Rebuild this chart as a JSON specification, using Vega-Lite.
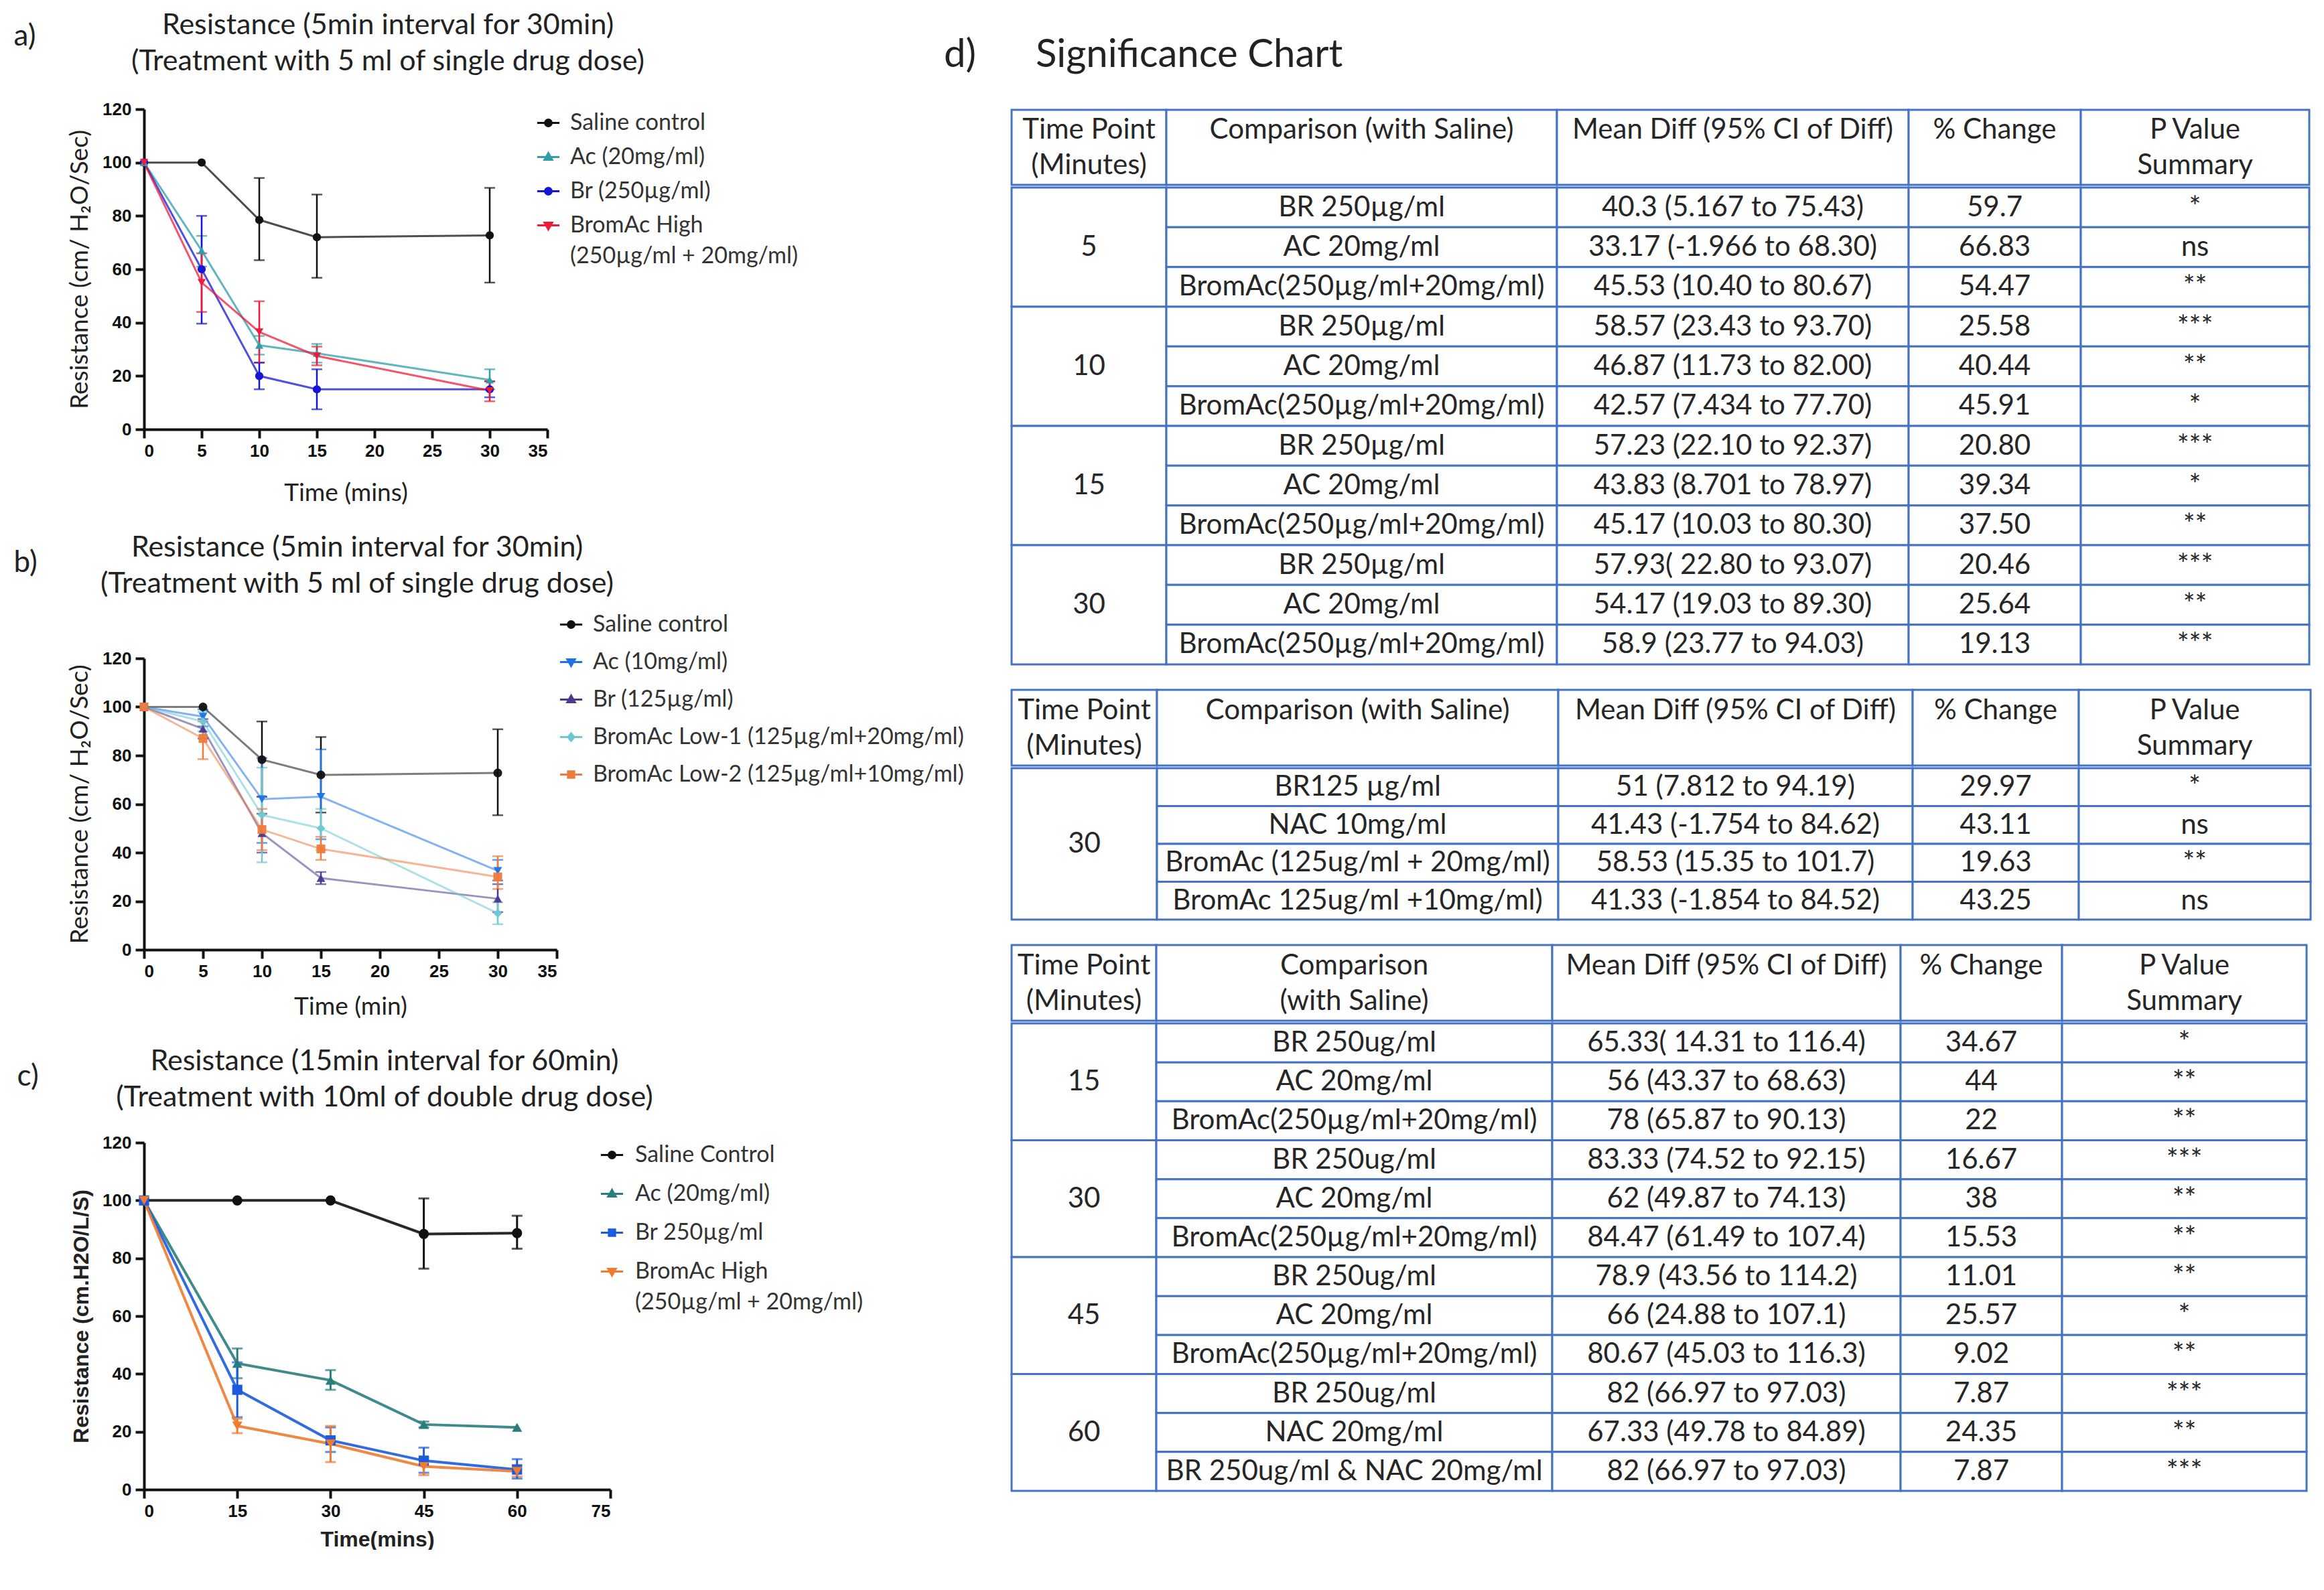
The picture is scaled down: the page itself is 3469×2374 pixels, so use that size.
{
"$schema": "https://vega.github.io/schema/vega-lite/v6.json",
"background": "white",
"padding": {"left": 20, "top": 17, "right": 0, "bottom": 0},
"config": {
  "view": {"stroke": null},
  "font": "Lato",
  "axis": {"labelFont": "Liberation Sans", "labelFontWeight": "bold", "labelFontSize": 26, "labelColor": "#111111", "domainColor": "#111111", "domainWidth": 4, "tickColor": "#111111", "tickWidth": 4, "tickSize": 13, "grid": false, "titleColor": "#222222", "labelPadding": 6},
  "axisY": {"titleFont": "Lato", "titleFontWeight": "normal", "titleFontSize": 37, "titlePadding": 14},
  "axisX": {"titleFont": "Lato", "titleFontWeight": "normal", "titleFontSize": 37, "titlePadding": 14},
  "title": {"font": "Lato", "fontWeight": "normal", "color": "#222222"}
},
"datasets": {
  "ca": [
    {"s": "Saline control", "t": 0, "v": 100},
    {"s": "Saline control", "t": 5, "v": 100},
    {"s": "Saline control", "t": 10, "v": 78.5, "lo": 63.4, "hi": 94.2},
    {"s": "Saline control", "t": 15, "v": 72, "lo": 56.8, "hi": 88},
    {"s": "Saline control", "t": 30, "v": 72.7, "lo": 55, "hi": 90.5},
    {"s": "Ac (20mg/ml)", "t": 0, "v": 100},
    {"s": "Ac (20mg/ml)", "t": 5, "v": 67, "lo": 61, "hi": 72.5},
    {"s": "Ac (20mg/ml)", "t": 10, "v": 31.5, "lo": 28, "hi": 35},
    {"s": "Ac (20mg/ml)", "t": 15, "v": 28.5, "lo": 25, "hi": 32},
    {"s": "Ac (20mg/ml)", "t": 30, "v": 18.5, "lo": 15, "hi": 22.5},
    {"s": "Br (250µg/ml)", "t": 0, "v": 100},
    {"s": "Br (250µg/ml)", "t": 5, "v": 60, "lo": 39.6, "hi": 80},
    {"s": "Br (250µg/ml)", "t": 10, "v": 20, "lo": 15, "hi": 25},
    {"s": "Br (250µg/ml)", "t": 15, "v": 15, "lo": 7.5, "hi": 22.5},
    {"s": "Br (250µg/ml)", "t": 30, "v": 15, "lo": 12, "hi": 18},
    {"s": "BromAc High (250µg/ml + 20mg/ml)", "t": 0, "v": 100},
    {"s": "BromAc High (250µg/ml + 20mg/ml)", "t": 5, "v": 55, "lo": 44, "hi": 66},
    {"s": "BromAc High (250µg/ml + 20mg/ml)", "t": 10, "v": 36.5, "lo": 25, "hi": 48},
    {"s": "BromAc High (250µg/ml + 20mg/ml)", "t": 15, "v": 27.5, "lo": 24, "hi": 31},
    {"s": "BromAc High (250µg/ml + 20mg/ml)", "t": 30, "v": 14.5, "lo": 10.5, "hi": 18}
  ],
  "cb": [
    {"s": "Saline control", "t": 0, "v": 100},
    {"s": "Saline control", "t": 5, "v": 100},
    {"s": "Saline control", "t": 10, "v": 78.3, "lo": 63, "hi": 94},
    {"s": "Saline control", "t": 15, "v": 72, "lo": 56.5, "hi": 87.6},
    {"s": "Saline control", "t": 30, "v": 72.8, "lo": 55.4, "hi": 90.8},
    {"s": "Ac (10mg/ml)", "t": 0, "v": 100},
    {"s": "Ac (10mg/ml)", "t": 5, "v": 96, "lo": 92, "hi": 99},
    {"s": "Ac (10mg/ml)", "t": 10, "v": 62, "lo": 44, "hi": 79},
    {"s": "Ac (10mg/ml)", "t": 15, "v": 63, "lo": 45.5, "hi": 82.5},
    {"s": "Ac (10mg/ml)", "t": 30, "v": 32.5, "lo": 28.5, "hi": 37},
    {"s": "Br (125µg/ml)", "t": 0, "v": 100},
    {"s": "Br (125µg/ml)", "t": 5, "v": 91, "lo": 87, "hi": 95},
    {"s": "Br (125µg/ml)", "t": 10, "v": 48, "lo": 40, "hi": 56},
    {"s": "Br (125µg/ml)", "t": 15, "v": 29.5, "lo": 27, "hi": 32},
    {"s": "Br (125µg/ml)", "t": 30, "v": 21, "lo": 15.5, "hi": 27},
    {"s": "BromAc Low-1 (125µg/ml+20mg/ml)", "t": 0, "v": 100},
    {"s": "BromAc Low-1 (125µg/ml+20mg/ml)", "t": 5, "v": 94, "lo": 90, "hi": 98},
    {"s": "BromAc Low-1 (125µg/ml+20mg/ml)", "t": 10, "v": 55.5, "lo": 36, "hi": 75},
    {"s": "BromAc Low-1 (125µg/ml+20mg/ml)", "t": 15, "v": 50, "lo": 41, "hi": 58},
    {"s": "BromAc Low-1 (125µg/ml+20mg/ml)", "t": 30, "v": 15, "lo": 10.5, "hi": 19.5},
    {"s": "BromAc Low-2 (125µg/ml+10mg/ml)", "t": 0, "v": 100},
    {"s": "BromAc Low-2 (125µg/ml+10mg/ml)", "t": 5, "v": 87, "lo": 78.5, "hi": 94},
    {"s": "BromAc Low-2 (125µg/ml+10mg/ml)", "t": 10, "v": 49.5, "lo": 41, "hi": 58},
    {"s": "BromAc Low-2 (125µg/ml+10mg/ml)", "t": 15, "v": 41.5, "lo": 37, "hi": 46.5},
    {"s": "BromAc Low-2 (125µg/ml+10mg/ml)", "t": 30, "v": 30, "lo": 25, "hi": 38.5}
  ],
  "cc": [
    {"s": "Saline Control", "t": 0, "v": 100},
    {"s": "Saline Control", "t": 15, "v": 100},
    {"s": "Saline Control", "t": 30, "v": 100},
    {"s": "Saline Control", "t": 45, "v": 88.4, "lo": 76.4, "hi": 100.7},
    {"s": "Saline Control", "t": 60, "v": 88.7, "lo": 83.3, "hi": 94.7},
    {"s": "Ac (20mg/ml)", "t": 0, "v": 100},
    {"s": "Ac (20mg/ml)", "t": 15, "v": 43.6, "lo": 38.5, "hi": 48.8},
    {"s": "Ac (20mg/ml)", "t": 30, "v": 37.8, "lo": 34.5, "hi": 41.3},
    {"s": "Ac (20mg/ml)", "t": 45, "v": 22.5, "lo": 21.5, "hi": 23.5},
    {"s": "Ac (20mg/ml)", "t": 60, "v": 21.5},
    {"s": "Br 250µg/ml", "t": 0, "v": 100},
    {"s": "Br 250µg/ml", "t": 15, "v": 34.5, "lo": 25, "hi": 44},
    {"s": "Br 250µg/ml", "t": 30, "v": 17, "lo": 13, "hi": 21.5},
    {"s": "Br 250µg/ml", "t": 45, "v": 10, "lo": 5.8, "hi": 14.5},
    {"s": "Br 250µg/ml", "t": 60, "v": 6.9, "lo": 3.8, "hi": 10.5},
    {"s": "BromAc High (250µg/ml + 20mg/ml)", "t": 0, "v": 100},
    {"s": "BromAc High (250µg/ml + 20mg/ml)", "t": 15, "v": 22, "lo": 19.5, "hi": 24.5},
    {"s": "BromAc High (250µg/ml + 20mg/ml)", "t": 30, "v": 15.8, "lo": 9.5, "hi": 22},
    {"s": "BromAc High (250µg/ml + 20mg/ml)", "t": 45, "v": 8, "lo": 5, "hi": 11},
    {"s": "BromAc High (250µg/ml + 20mg/ml)", "t": 60, "v": 6.3, "lo": 4.5, "hi": 8.5}
  ],
  "t1": [
    {"row": 1, "tp": 5, "comp": "BR 250µg/ml", "md": "40.3 (5.167 to 75.43)", "pct": "59.7", "p": "*"},
    {"row": 2, "tp": 5, "comp": "AC 20mg/ml", "md": "33.17 (-1.966 to 68.30)", "pct": "66.83", "p": "ns"},
    {"row": 3, "tp": 5, "comp": "BromAc(250µg/ml+20mg/ml)", "md": "45.53 (10.40 to 80.67)", "pct": "54.47", "p": "**"},
    {"row": 4, "tp": 10, "comp": "BR 250µg/ml", "md": "58.57 (23.43 to 93.70)", "pct": "25.58", "p": "***"},
    {"row": 5, "tp": 10, "comp": "AC 20mg/ml", "md": "46.87 (11.73 to 82.00)", "pct": "40.44", "p": "**"},
    {"row": 6, "tp": 10, "comp": "BromAc(250µg/ml+20mg/ml)", "md": "42.57 (7.434 to 77.70)", "pct": "45.91", "p": "*"},
    {"row": 7, "tp": 15, "comp": "BR 250µg/ml", "md": "57.23 (22.10 to 92.37)", "pct": "20.80", "p": "***"},
    {"row": 8, "tp": 15, "comp": "AC 20mg/ml", "md": "43.83 (8.701 to 78.97)", "pct": "39.34", "p": "*"},
    {"row": 9, "tp": 15, "comp": "BromAc(250µg/ml+20mg/ml)", "md": "45.17 (10.03 to 80.30)", "pct": "37.50", "p": "**"},
    {"row": 10, "tp": 30, "comp": "BR 250µg/ml", "md": "57.93( 22.80 to 93.07)", "pct": "20.46", "p": "***"},
    {"row": 11, "tp": 30, "comp": "AC 20mg/ml", "md": "54.17 (19.03 to 89.30)", "pct": "25.64", "p": "**"},
    {"row": 12, "tp": 30, "comp": "BromAc(250µg/ml+20mg/ml)", "md": "58.9 (23.77 to 94.03)", "pct": "19.13", "p": "***"}
  ],
  "t2": [
    {"row": 1, "tp": 30, "comp": "BR125 µg/ml", "md": "51 (7.812 to 94.19)", "pct": "29.97", "p": "*"},
    {"row": 2, "tp": 30, "comp": "NAC 10mg/ml", "md": "41.43 (-1.754 to 84.62)", "pct": "43.11", "p": "ns"},
    {"row": 3, "tp": 30, "comp": "BromAc (125ug/ml + 20mg/ml)", "md": "58.53 (15.35 to 101.7)", "pct": "19.63", "p": "**"},
    {"row": 4, "tp": 30, "comp": "BromAc 125ug/ml +10mg/ml)", "md": "41.33 (-1.854 to 84.52)", "pct": "43.25", "p": "ns"}
  ],
  "t3": [
    {"row": 1, "tp": 15, "comp": "BR 250ug/ml", "md": "65.33( 14.31 to 116.4)", "pct": "34.67", "p": "*"},
    {"row": 2, "tp": 15, "comp": "AC 20mg/ml", "md": "56 (43.37 to 68.63)", "pct": "44", "p": "**"},
    {"row": 3, "tp": 15, "comp": "BromAc(250µg/ml+20mg/ml)", "md": "78 (65.87 to 90.13)", "pct": "22", "p": "**"},
    {"row": 4, "tp": 30, "comp": "BR 250ug/ml", "md": "83.33 (74.52 to 92.15)", "pct": "16.67", "p": "***"},
    {"row": 5, "tp": 30, "comp": "AC 20mg/ml", "md": "62 (49.87 to 74.13)", "pct": "38", "p": "**"},
    {"row": 6, "tp": 30, "comp": "BromAc(250µg/ml+20mg/ml)", "md": "84.47 (61.49 to 107.4)", "pct": "15.53", "p": "**"},
    {"row": 7, "tp": 45, "comp": "BR 250ug/ml", "md": "78.9 (43.56 to 114.2)", "pct": "11.01", "p": "**"},
    {"row": 8, "tp": 45, "comp": "AC 20mg/ml", "md": "66 (24.88 to 107.1)", "pct": "25.57", "p": "*"},
    {"row": 9, "tp": 45, "comp": "BromAc(250µg/ml+20mg/ml)", "md": "80.67 (45.03 to 116.3)", "pct": "9.02", "p": "**"},
    {"row": 10, "tp": 60, "comp": "BR 250ug/ml", "md": "82 (66.97 to 97.03)", "pct": "7.87", "p": "***"},
    {"row": 11, "tp": 60, "comp": "NAC 20mg/ml", "md": "67.33 (49.78 to 84.89)", "pct": "24.35", "p": "**"},
    {"row": 12, "tp": 60, "comp": "BR 250ug/ml & NAC 20mg/ml", "md": "82 (66.97 to 97.03)", "pct": "7.87", "p": "***"}
  ]
},
"align": "none",
"spacing": -30,
"hconcat": [
  {
    "spacing": 43,
    "resolve": {"scale": {"color": "independent"}},
    "vconcat": [
      {
        "title": {"text": "a)", "anchor": "start", "frame": "bounds", "offset": -60, "dx": -80, "fontSize": 44},
        "resolve": {"scale": {"color": "independent"}},
        "vconcat": [{
          "width": 602, "height": 478,
          "data": {"name": "ca"},
          "title": {"text": ["Resistance (5min interval for 30min)", "(Treatment with 5 ml of single drug dose)"], "fontSize": 43, "lineHeight": 54, "offset": 36, "frame": "group", "dx": 63},
          "encoding": {
            "x": {"field": "t", "type": "quantitative", "scale": {"domain": [0, 35]}, "axis": {"values": [0, 5, 10, 15, 20, 25, 30, 35], "title": "Time (mins)", "titlePadding": 32}},
            "y": {"field": "v", "type": "quantitative", "scale": {"domain": [0, 120]}, "axis": {"title": "Resistance (cm/ H₂O/Sec)", "values": [0, 20, 40, 60, 80, 100, 120]}},
            "color": {"field": "s", "type": "nominal", "scale": {"domain": ["Saline control", "Ac (20mg/ml)", "Br (250µg/ml)", "BromAc High (250µg/ml + 20mg/ml)"], "range": ["#111111", "#2E9EA8", "#1515D5", "#EE1C3C"]},
              "legend": {
                "orient": "none", "legendX": 585, "legendY": 2, "title": null, "padding": 0,
                "labelFont": "Lato", "labelFontSize": 34, "labelColor": "#333333", "labelLimit": 1000, "labelOffset": 14,
                "symbolSize": 1100, "symbolStrokeWidth": 3, "rowPadding": 15,
                "labelExpr": "datum.label == 'BromAc High (250µg/ml + 20mg/ml)' ? ['BromAc High', '(250µg/ml + 20mg/ml)'] : datum.label",
                "encode": {
                  "labels": {"update": {"lineHeight": {"value": 46}}},
                  "symbols": {"update": {
                    "size": {"value": 1100}, "strokeWidth": {"value": 3}, "opacity": {"value": 1},
                    "shape": {"signal": "datum.value == 'Saline control' ? 'M-1,0H1M-0.3,0A0.3,0.3,0,1,0,0.3,0A0.3,0.3,0,1,0,-0.3,0Z' : datum.value == 'Ac (20mg/ml)' ? 'M-1,0H1M0,-0.36L0.34,0.24L-0.34,0.24Z' : datum.value == 'Br (250µg/ml)' ? 'M-1,0H1M-0.3,0A0.3,0.3,0,1,0,0.3,0A0.3,0.3,0,1,0,-0.3,0Z' : 'M-1,0H1M0,0.36L0.34,-0.24L-0.34,-0.24Z'"},
                    "fill": {"signal": "datum.value == 'Saline control' ? '#111111' : datum.value == 'Ac (20mg/ml)' ? '#2E9EA8' : datum.value == 'Br (250µg/ml)' ? '#1515D5' : '#EE1C3C'"},
                    "stroke": {"signal": "datum.value == 'Saline control' ? '#111111' : datum.value == 'Ac (20mg/ml)' ? '#2E9EA8' : datum.value == 'Br (250µg/ml)' ? '#1515D5' : '#EE1C3C'"}
                  }}
                }
              }
            }
          },
          "layer": [
            {
              "transform": [{"filter": "isValid(datum.lo)"}],
              "mark": {"type": "errorbar", "ticks": {"size": 16}, "thickness": 2.5},
              "encoding": {
                "y": {"field": "lo", "type": "quantitative", "scale": {"domain": [0, 120]}, "axis": {"title": "Resistance (cm/ H₂O/Sec)", "values": [0, 20, 40, 60, 80, 100, 120]}},
                "y2": {"field": "hi"}
              }
            },
            {"mark": {"type": "line", "strokeWidth": 3, "opacity": 0.75}, "encoding": {}},
            {"transform": [{"filter": {"field": "s", "oneOf": ["Saline control", "Br (250µg/ml)"]}}], "mark": {"type": "point", "shape": "circle", "filled": true, "size": 150, "opacity": 1}, "encoding": {}},
            {"transform": [{"filter": {"field": "s", "oneOf": ["Ac (20mg/ml)"]}}], "mark": {"type": "point", "shape": "triangle-up", "filled": true, "size": 150, "opacity": 1}, "encoding": {}},
            {"transform": [{"filter": {"field": "s", "oneOf": ["BromAc High (250µg/ml + 20mg/ml)"]}}], "mark": {"type": "point", "shape": "triangle-down", "filled": true, "size": 150, "opacity": 1}, "encoding": {}}
          ]
        }]
      },
      {
        "title": {"text": "b)", "anchor": "start", "frame": "bounds", "offset": -66, "dx": -80, "fontSize": 44},
        "resolve": {"scale": {"color": "independent"}},
        "vconcat": [{
          "width": 616, "height": 435,
          "data": {"name": "cb"},
          "title": {"text": ["Resistance (5min interval for 30min)", "(Treatment with 5 ml of single drug dose)"], "fontSize": 43, "lineHeight": 54, "offset": 20, "frame": "group", "dx": 10},
          "encoding": {
            "x": {"field": "t", "type": "quantitative", "scale": {"domain": [0, 35]}, "axis": {"values": [0, 5, 10, 15, 20, 25, 30, 35], "title": "Time (min)", "titlePadding": 22}},
            "y": {"field": "v", "type": "quantitative", "scale": {"domain": [0, 120]}, "axis": {"title": "Resistance (cm/ H₂O/Sec)", "values": [0, 20, 40, 60, 80, 100, 120]}},
            "color": {"field": "s", "type": "nominal", "scale": {"domain": ["Saline control", "Ac (10mg/ml)", "Br (125µg/ml)", "BromAc Low-1 (125µg/ml+20mg/ml)", "BromAc Low-2 (125µg/ml+10mg/ml)"], "range": ["#111111", "#1E73E6", "#4A3A8C", "#6CC8D2", "#EE7A3E"]},
              "legend": {
                "orient": "none", "legendX": 619, "legendY": -69, "title": null, "padding": 0,
                "labelFont": "Lato", "labelFontSize": 34, "labelColor": "#333333", "labelLimit": 1000, "labelOffset": 14,
                "symbolSize": 1100, "symbolStrokeWidth": 3, "rowPadding": 20,
                "encode": {
                  "symbols": {"update": {
                    "size": {"value": 1100}, "strokeWidth": {"value": 3}, "opacity": {"value": 1},
                    "shape": {"signal": "datum.value == 'Saline control' ? 'M-1,0H1M-0.3,0A0.3,0.3,0,1,0,0.3,0A0.3,0.3,0,1,0,-0.3,0Z' : datum.value == 'Ac (10mg/ml)' ? 'M-1,0H1M0,0.36L0.34,-0.24L-0.34,-0.24Z' : datum.value == 'Br (125µg/ml)' ? 'M-1,0H1M0,-0.36L0.34,0.24L-0.34,0.24Z' : datum.value == 'BromAc Low-1 (125µg/ml+20mg/ml)' ? 'M-1,0H1M0,-0.34L0.28,0L0,0.34L-0.28,0Z' : 'M-1,0H1M-0.28,-0.28H0.28V0.28H-0.28Z'"},
                    "fill": {"signal": "datum.value == 'Saline control' ? '#111111' : datum.value == 'Ac (10mg/ml)' ? '#1E73E6' : datum.value == 'Br (125µg/ml)' ? '#4A3A8C' : datum.value == 'BromAc Low-1 (125µg/ml+20mg/ml)' ? '#6CC8D2' : '#EE7A3E'"},
                    "stroke": {"signal": "datum.value == 'Saline control' ? '#111111' : datum.value == 'Ac (10mg/ml)' ? '#1E73E6' : datum.value == 'Br (125µg/ml)' ? '#4A3A8C' : datum.value == 'BromAc Low-1 (125µg/ml+20mg/ml)' ? '#6CC8D2' : '#EE7A3E'"}
                  }}
                }
              }
            }
          },
          "layer": [
            {
              "transform": [{"filter": "isValid(datum.lo)"}],
              "mark": {"type": "errorbar", "ticks": {"size": 16}, "thickness": 2.5},
              "encoding": {
                "y": {"field": "lo", "type": "quantitative", "scale": {"domain": [0, 120]}, "axis": {"title": "Resistance (cm/ H₂O/Sec)", "values": [0, 20, 40, 60, 80, 100, 120]}},
                "y2": {"field": "hi"}
              }
            },
            {"mark": {"type": "line", "strokeWidth": 3, "opacity": 0.55}, "encoding": {}},
            {"transform": [{"filter": {"field": "s", "oneOf": ["Saline control"]}}], "mark": {"type": "point", "shape": "circle", "filled": true, "size": 170, "opacity": 0.95}, "encoding": {}},
            {"transform": [{"filter": {"field": "s", "oneOf": ["Ac (10mg/ml)"]}}], "mark": {"type": "point", "shape": "triangle-down", "filled": true, "size": 170, "opacity": 0.95}, "encoding": {}},
            {"transform": [{"filter": {"field": "s", "oneOf": ["Br (125µg/ml)"]}}], "mark": {"type": "point", "shape": "triangle-up", "filled": true, "size": 170, "opacity": 0.95}, "encoding": {}},
            {"transform": [{"filter": {"field": "s", "oneOf": ["BromAc Low-1 (125µg/ml+20mg/ml)"]}}], "mark": {"type": "point", "shape": "diamond", "filled": true, "size": 170, "opacity": 0.95}, "encoding": {}},
            {"transform": [{"filter": {"field": "s", "oneOf": ["BromAc Low-2 (125µg/ml+10mg/ml)"]}}], "mark": {"type": "point", "shape": "square", "filled": true, "size": 170, "opacity": 0.95}, "encoding": {}}
          ]
        }]
      },
      {
        "title": {"text": "c)", "anchor": "start", "frame": "bounds", "offset": -66, "dx": -80, "fontSize": 44},
        "resolve": {"scale": {"color": "independent"}},
        "vconcat": [{
          "width": 696, "height": 518,
          "data": {"name": "cc"},
          "title": {"text": ["Resistance (15min interval for 60min)", "(Treatment with 10ml of double drug dose)"], "fontSize": 43, "lineHeight": 54, "offset": 32, "frame": "group", "dx": 11},
          "encoding": {
            "x": {"field": "t", "type": "quantitative", "scale": {"domain": [0, 75]}, "axis": {"values": [0, 15, 30, 45, 60, 75], "title": "Time(mins)", "titleFont": "Liberation Sans", "titleFontWeight": "bold", "titleFontSize": 32}},
            "y": {"field": "v", "type": "quantitative", "scale": {"domain": [0, 120]}, "axis": {"title": "Resistance (cm.H2O/L/S)", "titleFont": "Liberation Sans", "titleFontWeight": "bold", "titleFontSize": 32, "values": [0, 20, 40, 60, 80, 100, 120]}},
            "color": {"field": "s", "type": "nominal", "scale": {"domain": ["Saline Control", "Ac (20mg/ml)", "Br 250µg/ml", "BromAc High (250µg/ml + 20mg/ml)"], "range": ["#111111", "#2A7D7D", "#1B5BE0", "#F07B2E"]},
              "legend": {
                "orient": "none", "legendX": 680, "legendY": 0, "title": null, "padding": 0,
                "labelFont": "Lato", "labelFontSize": 34, "labelColor": "#333333", "labelLimit": 1000, "labelOffset": 16,
                "symbolSize": 1100, "symbolStrokeWidth": 3, "rowPadding": 22,
                "labelExpr": "datum.label == 'BromAc High (250µg/ml + 20mg/ml)' ? ['BromAc High', '(250µg/ml + 20mg/ml)'] : datum.label",
                "encode": {
                  "labels": {"update": {"lineHeight": {"value": 46}}},
                  "symbols": {"update": {
                    "size": {"value": 1100}, "strokeWidth": {"value": 3}, "opacity": {"value": 1},
                    "shape": {"signal": "datum.value == 'Saline Control' ? 'M-1,0H1M-0.3,0A0.3,0.3,0,1,0,0.3,0A0.3,0.3,0,1,0,-0.3,0Z' : datum.value == 'Ac (20mg/ml)' ? 'M-1,0H1M0,-0.36L0.34,0.24L-0.34,0.24Z' : datum.value == 'Br 250µg/ml' ? 'M-1,0H1M-0.28,-0.28H0.28V0.28H-0.28Z' : 'M-1,0H1M0,0.36L0.34,-0.24L-0.34,-0.24Z'"},
                    "fill": {"signal": "datum.value == 'Saline Control' ? '#111111' : datum.value == 'Ac (20mg/ml)' ? '#2A7D7D' : datum.value == 'Br 250µg/ml' ? '#1B5BE0' : '#F07B2E'"},
                    "stroke": {"signal": "datum.value == 'Saline Control' ? '#111111' : datum.value == 'Ac (20mg/ml)' ? '#2A7D7D' : datum.value == 'Br 250µg/ml' ? '#1B5BE0' : '#F07B2E'"}
                  }}
                }
              }
            }
          },
          "layer": [
            {
              "transform": [{"filter": "isValid(datum.lo)"}],
              "mark": {"type": "errorbar", "ticks": {"size": 16}, "thickness": 3},
              "encoding": {
                "y": {"field": "lo", "type": "quantitative", "scale": {"domain": [0, 120]}, "axis": {"title": "Resistance (cm.H2O/L/S)", "titleFont": "Liberation Sans", "titleFontWeight": "bold", "titleFontSize": 32, "values": [0, 20, 40, 60, 80, 100, 120]}},
                "y2": {"field": "hi"}
              }
            },
            {"mark": {"type": "line", "strokeWidth": 4, "opacity": 0.9}, "encoding": {}},
            {"transform": [{"filter": {"field": "s", "oneOf": ["Saline Control"]}}], "mark": {"type": "point", "shape": "circle", "filled": true, "size": 230, "opacity": 1}, "encoding": {}},
            {"transform": [{"filter": {"field": "s", "oneOf": ["Ac (20mg/ml)"]}}], "mark": {"type": "point", "shape": "triangle-up", "filled": true, "size": 230, "opacity": 1}, "encoding": {}},
            {"transform": [{"filter": {"field": "s", "oneOf": ["Br 250µg/ml"]}}], "mark": {"type": "point", "shape": "square", "filled": true, "size": 230, "opacity": 1}, "encoding": {}},
            {"transform": [{"filter": {"field": "s", "oneOf": ["BromAc High (250µg/ml + 20mg/ml)"]}}], "mark": {"type": "point", "shape": "triangle-down", "filled": true, "size": 230, "opacity": 1}, "encoding": {}}
          ]
        }]
      }
    ]
  },
  {
    "spacing": -26,
    "vconcat": [
      {"width": 1937, "height": 1, "data": {"values": []}, "mark": "rect",
       "title": {"text": "d)\u00a0\u00a0\u00a0\u00a0\u00a0\u00a0Significance Chart", "anchor": "start", "frame": "group", "dx": -101, "fontSize": 58, "offset": 51}},
      {
        "spacing": 34,
        "vconcat": [
          {
            "spacing": 0,
            "vconcat": [
              {"spacing": 0, "bounds": "flush", "hconcat": [
                {"width": 231, "height": 112, "data": {"values": [{"h1": "Time Point", "h2": "(Minutes)"}]}, "layer": [
                  {"mark": {"type": "rect", "fill": "#ffffff", "stroke": "#4472C4", "strokeWidth": 3}, "encoding": {}},
                  {"mark": {"type": "text", "fontSize": 42, "color": "#262626", "dy": -26}, "encoding": {"text": {"field": "h1"}}},
                  {"mark": {"type": "text", "fontSize": 42, "color": "#262626", "dy": 27}, "encoding": {"text": {"field": "h2"}}}]},
                {"width": 583, "height": 112, "data": {"values": [{"h1": "Comparison (with Saline)", "h2": ""}]}, "layer": [
                  {"mark": {"type": "rect", "fill": "#ffffff", "stroke": "#4472C4", "strokeWidth": 3}, "encoding": {}},
                  {"mark": {"type": "text", "fontSize": 42, "color": "#262626", "dy": -26}, "encoding": {"text": {"field": "h1"}}},
                  {"mark": {"type": "text", "fontSize": 42, "color": "#262626", "dy": 27}, "encoding": {"text": {"field": "h2"}}}]},
                {"width": 525, "height": 112, "data": {"values": [{"h1": "Mean Diff (95% CI of Diff)", "h2": ""}]}, "layer": [
                  {"mark": {"type": "rect", "fill": "#ffffff", "stroke": "#4472C4", "strokeWidth": 3}, "encoding": {}},
                  {"mark": {"type": "text", "fontSize": 42, "color": "#262626", "dy": -26}, "encoding": {"text": {"field": "h1"}}},
                  {"mark": {"type": "text", "fontSize": 42, "color": "#262626", "dy": 27}, "encoding": {"text": {"field": "h2"}}}]},
                {"width": 257, "height": 112, "data": {"values": [{"h1": "% Change", "h2": ""}]}, "layer": [
                  {"mark": {"type": "rect", "fill": "#ffffff", "stroke": "#4472C4", "strokeWidth": 3}, "encoding": {}},
                  {"mark": {"type": "text", "fontSize": 42, "color": "#262626", "dy": -26}, "encoding": {"text": {"field": "h1"}}},
                  {"mark": {"type": "text", "fontSize": 42, "color": "#262626", "dy": 27}, "encoding": {"text": {"field": "h2"}}}]},
                {"width": 341, "height": 112, "data": {"values": [{"h1": "P Value", "h2": "Summary"}]}, "layer": [
                  {"mark": {"type": "rect", "fill": "#ffffff", "stroke": "#4472C4", "strokeWidth": 3}, "encoding": {}},
                  {"mark": {"type": "text", "fontSize": 42, "color": "#262626", "dy": -26}, "encoding": {"text": {"field": "h1"}}},
                  {"mark": {"type": "text", "fontSize": 42, "color": "#262626", "dy": 27}, "encoding": {"text": {"field": "h2"}}}]}
              ]},
              {"spacing": 0, "bounds": "flush", "hconcat": [
                {"width": 231, "height": 712, "data": {"name": "t1"}, "transform": [{"aggregate": [{"op": "count", "as": "n"}], "groupby": ["tp"]}],
                 "encoding": {"y": {"field": "tp", "type": "ordinal", "axis": null, "scale": {"type": "band", "paddingInner": 0, "paddingOuter": 0}}},
                 "layer": [
                  {"mark": {"type": "rect", "fill": "#ffffff", "stroke": "#4472C4", "strokeWidth": 3}, "encoding": {}},
                  {"mark": {"type": "text", "fontSize": 42, "color": "#262626"}, "encoding": {"text": {"field": "tp"}}}]},
                {"width": 583, "height": 712, "data": {"name": "t1"},
                 "encoding": {"y": {"field": "row", "type": "ordinal", "axis": null, "scale": {"type": "band", "paddingInner": 0, "paddingOuter": 0}}},
                 "layer": [
                  {"mark": {"type": "rect", "fill": "#ffffff", "stroke": "#4472C4", "strokeWidth": 3}, "encoding": {}},
                  {"mark": {"type": "text", "fontSize": 42, "color": "#262626"}, "encoding": {"text": {"field": "comp"}}}]},
                {"width": 525, "height": 712, "data": {"name": "t1"},
                 "encoding": {"y": {"field": "row", "type": "ordinal", "axis": null, "scale": {"type": "band", "paddingInner": 0, "paddingOuter": 0}}},
                 "layer": [
                  {"mark": {"type": "rect", "fill": "#ffffff", "stroke": "#4472C4", "strokeWidth": 3}, "encoding": {}},
                  {"mark": {"type": "text", "fontSize": 42, "color": "#262626"}, "encoding": {"text": {"field": "md"}}}]},
                {"width": 257, "height": 712, "data": {"name": "t1"},
                 "encoding": {"y": {"field": "row", "type": "ordinal", "axis": null, "scale": {"type": "band", "paddingInner": 0, "paddingOuter": 0}}},
                 "layer": [
                  {"mark": {"type": "rect", "fill": "#ffffff", "stroke": "#4472C4", "strokeWidth": 3}, "encoding": {}},
                  {"mark": {"type": "text", "fontSize": 42, "color": "#262626"}, "encoding": {"text": {"field": "pct"}}}]},
                {"width": 341, "height": 712, "data": {"name": "t1"},
                 "encoding": {"y": {"field": "row", "type": "ordinal", "axis": null, "scale": {"type": "band", "paddingInner": 0, "paddingOuter": 0}}},
                 "layer": [
                  {"mark": {"type": "rect", "fill": "#ffffff", "stroke": "#4472C4", "strokeWidth": 3}, "encoding": {}},
                  {"mark": {"type": "text", "fontSize": 42, "color": "#262626"}, "encoding": {"text": {"field": "p"}}}]}
              ]}
            ]
          },
          {
            "spacing": 0,
            "vconcat": [
              {"spacing": 0, "bounds": "flush", "hconcat": [
                {"width": 217, "height": 113, "data": {"values": [{"h1": "Time Point", "h2": "(Minutes)"}]}, "layer": [
                  {"mark": {"type": "rect", "fill": "#ffffff", "stroke": "#4472C4", "strokeWidth": 3}, "encoding": {}},
                  {"mark": {"type": "text", "fontSize": 42, "color": "#262626", "dy": -26}, "encoding": {"text": {"field": "h1"}}},
                  {"mark": {"type": "text", "fontSize": 42, "color": "#262626", "dy": 27}, "encoding": {"text": {"field": "h2"}}}]},
                {"width": 599, "height": 113, "data": {"values": [{"h1": "Comparison (with Saline)", "h2": ""}]}, "layer": [
                  {"mark": {"type": "rect", "fill": "#ffffff", "stroke": "#4472C4", "strokeWidth": 3}, "encoding": {}},
                  {"mark": {"type": "text", "fontSize": 42, "color": "#262626", "dy": -26}, "encoding": {"text": {"field": "h1"}}},
                  {"mark": {"type": "text", "fontSize": 42, "color": "#262626", "dy": 27}, "encoding": {"text": {"field": "h2"}}}]},
                {"width": 529, "height": 113, "data": {"values": [{"h1": "Mean Diff (95% CI of Diff)", "h2": ""}]}, "layer": [
                  {"mark": {"type": "rect", "fill": "#ffffff", "stroke": "#4472C4", "strokeWidth": 3}, "encoding": {}},
                  {"mark": {"type": "text", "fontSize": 42, "color": "#262626", "dy": -26}, "encoding": {"text": {"field": "h1"}}},
                  {"mark": {"type": "text", "fontSize": 42, "color": "#262626", "dy": 27}, "encoding": {"text": {"field": "h2"}}}]},
                {"width": 248, "height": 113, "data": {"values": [{"h1": "% Change", "h2": ""}]}, "layer": [
                  {"mark": {"type": "rect", "fill": "#ffffff", "stroke": "#4472C4", "strokeWidth": 3}, "encoding": {}},
                  {"mark": {"type": "text", "fontSize": 42, "color": "#262626", "dy": -26}, "encoding": {"text": {"field": "h1"}}},
                  {"mark": {"type": "text", "fontSize": 42, "color": "#262626", "dy": 27}, "encoding": {"text": {"field": "h2"}}}]},
                {"width": 346, "height": 113, "data": {"values": [{"h1": "P Value", "h2": "Summary"}]}, "layer": [
                  {"mark": {"type": "rect", "fill": "#ffffff", "stroke": "#4472C4", "strokeWidth": 3}, "encoding": {}},
                  {"mark": {"type": "text", "fontSize": 42, "color": "#262626", "dy": -26}, "encoding": {"text": {"field": "h1"}}},
                  {"mark": {"type": "text", "fontSize": 42, "color": "#262626", "dy": 27}, "encoding": {"text": {"field": "h2"}}}]}
              ]},
              {"spacing": 0, "bounds": "flush", "hconcat": [
                {"width": 217, "height": 226, "data": {"name": "t2"}, "transform": [{"aggregate": [{"op": "count", "as": "n"}], "groupby": ["tp"]}],
                 "encoding": {"y": {"field": "tp", "type": "ordinal", "axis": null, "scale": {"type": "band", "paddingInner": 0, "paddingOuter": 0}}},
                 "layer": [
                  {"mark": {"type": "rect", "fill": "#ffffff", "stroke": "#4472C4", "strokeWidth": 3}, "encoding": {}},
                  {"mark": {"type": "text", "fontSize": 42, "color": "#262626"}, "encoding": {"text": {"field": "tp"}}}]},
                {"width": 599, "height": 226, "data": {"name": "t2"},
                 "encoding": {"y": {"field": "row", "type": "ordinal", "axis": null, "scale": {"type": "band", "paddingInner": 0, "paddingOuter": 0}}},
                 "layer": [
                  {"mark": {"type": "rect", "fill": "#ffffff", "stroke": "#4472C4", "strokeWidth": 3}, "encoding": {}},
                  {"mark": {"type": "text", "fontSize": 42, "color": "#262626"}, "encoding": {"text": {"field": "comp"}}}]},
                {"width": 529, "height": 226, "data": {"name": "t2"},
                 "encoding": {"y": {"field": "row", "type": "ordinal", "axis": null, "scale": {"type": "band", "paddingInner": 0, "paddingOuter": 0}}},
                 "layer": [
                  {"mark": {"type": "rect", "fill": "#ffffff", "stroke": "#4472C4", "strokeWidth": 3}, "encoding": {}},
                  {"mark": {"type": "text", "fontSize": 42, "color": "#262626"}, "encoding": {"text": {"field": "md"}}}]},
                {"width": 248, "height": 226, "data": {"name": "t2"},
                 "encoding": {"y": {"field": "row", "type": "ordinal", "axis": null, "scale": {"type": "band", "paddingInner": 0, "paddingOuter": 0}}},
                 "layer": [
                  {"mark": {"type": "rect", "fill": "#ffffff", "stroke": "#4472C4", "strokeWidth": 3}, "encoding": {}},
                  {"mark": {"type": "text", "fontSize": 42, "color": "#262626"}, "encoding": {"text": {"field": "pct"}}}]},
                {"width": 346, "height": 226, "data": {"name": "t2"},
                 "encoding": {"y": {"field": "row", "type": "ordinal", "axis": null, "scale": {"type": "band", "paddingInner": 0, "paddingOuter": 0}}},
                 "layer": [
                  {"mark": {"type": "rect", "fill": "#ffffff", "stroke": "#4472C4", "strokeWidth": 3}, "encoding": {}},
                  {"mark": {"type": "text", "fontSize": 42, "color": "#262626"}, "encoding": {"text": {"field": "p"}}}]}
              ]}
            ]
          },
          {
            "spacing": 0,
            "vconcat": [
              {"spacing": 0, "bounds": "flush", "hconcat": [
                {"width": 216, "height": 113, "data": {"values": [{"h1": "Time Point", "h2": "(Minutes)"}]}, "layer": [
                  {"mark": {"type": "rect", "fill": "#ffffff", "stroke": "#4472C4", "strokeWidth": 3}, "encoding": {}},
                  {"mark": {"type": "text", "fontSize": 42, "color": "#262626", "dy": -26}, "encoding": {"text": {"field": "h1"}}},
                  {"mark": {"type": "text", "fontSize": 42, "color": "#262626", "dy": 27}, "encoding": {"text": {"field": "h2"}}}]},
                {"width": 591, "height": 113, "data": {"values": [{"h1": "Comparison", "h2": "(with Saline)"}]}, "layer": [
                  {"mark": {"type": "rect", "fill": "#ffffff", "stroke": "#4472C4", "strokeWidth": 3}, "encoding": {}},
                  {"mark": {"type": "text", "fontSize": 42, "color": "#262626", "dy": -26}, "encoding": {"text": {"field": "h1"}}},
                  {"mark": {"type": "text", "fontSize": 42, "color": "#262626", "dy": 27}, "encoding": {"text": {"field": "h2"}}}]},
                {"width": 520, "height": 113, "data": {"values": [{"h1": "Mean Diff (95% CI of Diff)", "h2": ""}]}, "layer": [
                  {"mark": {"type": "rect", "fill": "#ffffff", "stroke": "#4472C4", "strokeWidth": 3}, "encoding": {}},
                  {"mark": {"type": "text", "fontSize": 42, "color": "#262626", "dy": -26}, "encoding": {"text": {"field": "h1"}}},
                  {"mark": {"type": "text", "fontSize": 42, "color": "#262626", "dy": 27}, "encoding": {"text": {"field": "h2"}}}]},
                {"width": 241, "height": 113, "data": {"values": [{"h1": "% Change", "h2": ""}]}, "layer": [
                  {"mark": {"type": "rect", "fill": "#ffffff", "stroke": "#4472C4", "strokeWidth": 3}, "encoding": {}},
                  {"mark": {"type": "text", "fontSize": 42, "color": "#262626", "dy": -26}, "encoding": {"text": {"field": "h1"}}},
                  {"mark": {"type": "text", "fontSize": 42, "color": "#262626", "dy": 27}, "encoding": {"text": {"field": "h2"}}}]},
                {"width": 365, "height": 113, "data": {"values": [{"h1": "P Value", "h2": "Summary"}]}, "layer": [
                  {"mark": {"type": "rect", "fill": "#ffffff", "stroke": "#4472C4", "strokeWidth": 3}, "encoding": {}},
                  {"mark": {"type": "text", "fontSize": 42, "color": "#262626", "dy": -26}, "encoding": {"text": {"field": "h1"}}},
                  {"mark": {"type": "text", "fontSize": 42, "color": "#262626", "dy": 27}, "encoding": {"text": {"field": "h2"}}}]}
              ]},
              {"spacing": 0, "bounds": "flush", "hconcat": [
                {"width": 216, "height": 698, "data": {"name": "t3"}, "transform": [{"aggregate": [{"op": "count", "as": "n"}], "groupby": ["tp"]}],
                 "encoding": {"y": {"field": "tp", "type": "ordinal", "axis": null, "scale": {"type": "band", "paddingInner": 0, "paddingOuter": 0}}},
                 "layer": [
                  {"mark": {"type": "rect", "fill": "#ffffff", "stroke": "#4472C4", "strokeWidth": 3}, "encoding": {}},
                  {"mark": {"type": "text", "fontSize": 42, "color": "#262626"}, "encoding": {"text": {"field": "tp"}}}]},
                {"width": 591, "height": 698, "data": {"name": "t3"},
                 "encoding": {"y": {"field": "row", "type": "ordinal", "axis": null, "scale": {"type": "band", "paddingInner": 0, "paddingOuter": 0}}},
                 "layer": [
                  {"mark": {"type": "rect", "fill": "#ffffff", "stroke": "#4472C4", "strokeWidth": 3}, "encoding": {}},
                  {"mark": {"type": "text", "fontSize": 42, "color": "#262626"}, "encoding": {"text": {"field": "comp"}}}]},
                {"width": 520, "height": 698, "data": {"name": "t3"},
                 "encoding": {"y": {"field": "row", "type": "ordinal", "axis": null, "scale": {"type": "band", "paddingInner": 0, "paddingOuter": 0}}},
                 "layer": [
                  {"mark": {"type": "rect", "fill": "#ffffff", "stroke": "#4472C4", "strokeWidth": 3}, "encoding": {}},
                  {"mark": {"type": "text", "fontSize": 42, "color": "#262626"}, "encoding": {"text": {"field": "md"}}}]},
                {"width": 241, "height": 698, "data": {"name": "t3"},
                 "encoding": {"y": {"field": "row", "type": "ordinal", "axis": null, "scale": {"type": "band", "paddingInner": 0, "paddingOuter": 0}}},
                 "layer": [
                  {"mark": {"type": "rect", "fill": "#ffffff", "stroke": "#4472C4", "strokeWidth": 3}, "encoding": {}},
                  {"mark": {"type": "text", "fontSize": 42, "color": "#262626"}, "encoding": {"text": {"field": "pct"}}}]},
                {"width": 365, "height": 698, "data": {"name": "t3"},
                 "encoding": {"y": {"field": "row", "type": "ordinal", "axis": null, "scale": {"type": "band", "paddingInner": 0, "paddingOuter": 0}}},
                 "layer": [
                  {"mark": {"type": "rect", "fill": "#ffffff", "stroke": "#4472C4", "strokeWidth": 3}, "encoding": {}},
                  {"mark": {"type": "text", "fontSize": 42, "color": "#262626"}, "encoding": {"text": {"field": "p"}}}]}
              ]}
            ]
          }
        ]
      }
    ]
  }
]
}
